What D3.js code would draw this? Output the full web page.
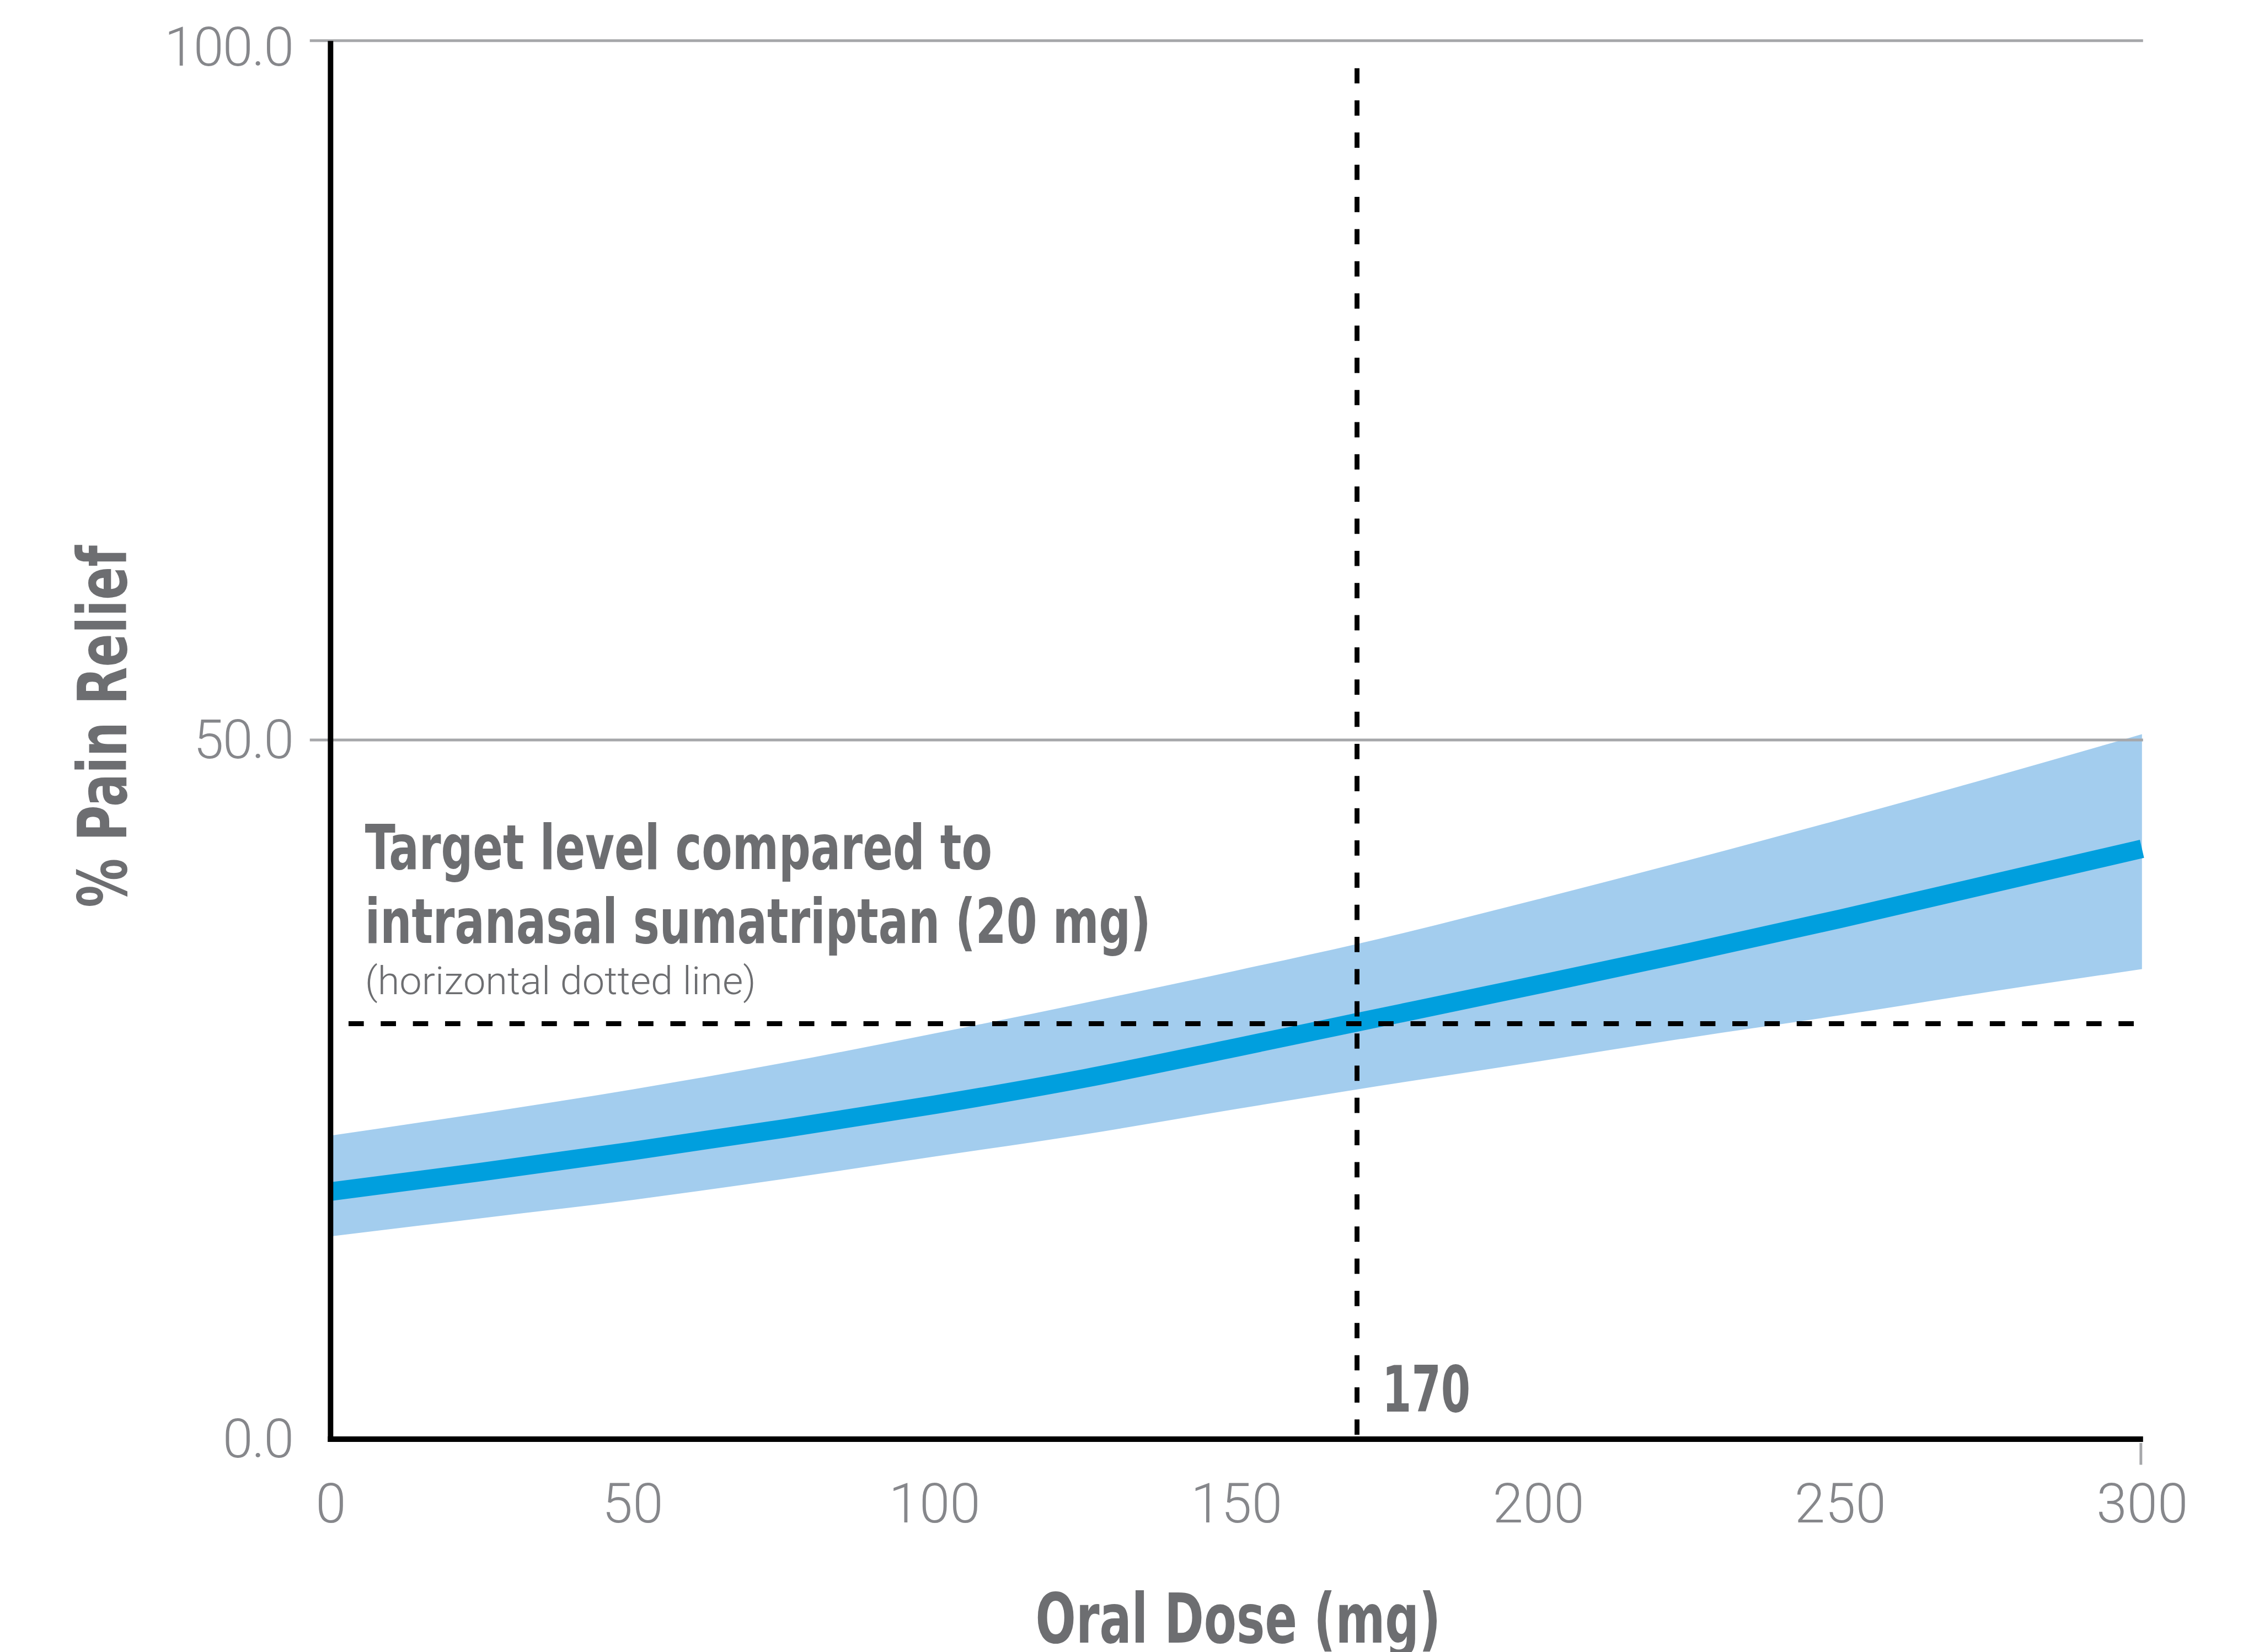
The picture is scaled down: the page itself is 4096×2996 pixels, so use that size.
<!DOCTYPE html>
<html>
<head>
<meta charset="utf-8">
<script src="https://cdn.jsdelivr.net/npm/d3@7"></script>
<style>
    html, body { margin: 0; padding: 0; background: #fff; }
</style>
</head>
<body>
<div id="chart"></div>
<script>
// values
const doses  = [0, 25, 50, 75, 100, 125, 150, 170, 200, 225, 250, 275, 300]
const relief = [17.7, 19.1, 20.6, 22.2, 23.9, 25.8, 28.0, 29.8, 32.5, 34.8, 37.2, 39.7, 42.2]
const upper  = [21.7, 23.3, 25.0, 26.9, 29.0, 31.2, 33.5, 35.4, 38.6, 41.4, 44.3, 47.3, 50.4]
const lower  = [14.5, 15.8, 17.1, 18.6, 20.2, 21.8, 23.6, 25.0, 27.0, 28.7, 30.3, 32.0, 33.6]

const xTicks = [0, 50, 100, 150, 200, 250, 300]
const yTicks = [0, 50, 100]

const targetLevel = 29.7
const targetDose  = 170

const annotation = ["Target level compared to", "intranasal sumatriptan (20 mg)"]
const annotationNote = "(horizontal dotted line)"

// ----------------------------------------------------------

const width  = 4096
const height = 2996
const k = 0.989

const grey     = "#6d6e71"
const tickGrey = "#86878b"
const gridGrey = "#a6a7aa"
const condensed = "'Liberation Sans Narrow', 'Arial Narrow', 'DejaVu Sans Condensed', 'Liberation Sans', sans-serif"

const svg = d3.select("#chart")
    .append("svg")
    .attr("width",  width)
    .attr("height", height)

const g = svg.append("g")
    .attr("transform", `scale(${k})`)

const x = d3.scaleLinear().domain([0, 300]).range([606, 3927])
const y = d3.scaleLinear().domain([0, 100]).range([2639, 74])

const data = doses.map((d, i) => ({dose: d, relief: relief[i], upper: upper[i], lower: lower[i]}))

// confidence band
const area = d3.area()
    .x(d => x(d.dose))
    .y0(d => y(d.lower))
    .y1(d => y(d.upper))
    .curve(d3.curveMonotoneX)

g.append("path")
    .datum(data)
    .attr("d", area)
    .attr("fill", "#a3cdee")

const line = d3.line()
    .x(d => x(d.dose))
    .y(d => y(d.relief))
    .curve(d3.curveMonotoneX)

g.append("path")
    .datum(data)
    .attr("d", line)
    .attr("fill", "none")
    .attr("stroke", "#009fde")
    .attr("stroke-width", 34)

// y axis: gridlines + labels
const yAxisGroup = g.append("g")
    .attr("transform", `translate(${x(0)}, 0)`)
    .call(d3.axisLeft(y)
        .tickValues(yTicks)
        .tickFormat(d3.format(".1f"))
        .tickSize(-(x(300) - x(0) + 2))
        .tickPadding(69))

yAxisGroup.select(".domain").remove()
yAxisGroup.selectAll(".tick line")
    .attr("x1", -38)
    .attr("stroke", gridGrey)
    .attr("stroke-width", 5)
    .attr("opacity", d => d === 0 ? 0 : 1)
yAxisGroup.selectAll(".tick text")
    .attr("fill", tickGrey)
    .attr("font-family", "Roboto, 'Open Sans', sans-serif")
    .attr("font-weight", 300)
    .attr("font-size", 100)
    .attr("letter-spacing", -2)
    .attr("dy", d => d === 100 ? "0.46em" : "0.33em")

// x axis labels
const xAxisGroup = g.append("g")
    .attr("transform", `translate(0, ${y(0)})`)
    .call(d3.axisBottom(x).tickValues(xTicks).tickSize(0))

xAxisGroup.select(".domain").remove()
xAxisGroup.selectAll(".tick text")
    .attr("fill", tickGrey)
    .attr("font-family", "Roboto, 'Open Sans', sans-serif")
    .attr("font-weight", 300)
    .attr("font-size", 101)
    .attr("y", 153)
    .attr("dy", 0)

g.append("line")
    .attr("x1", x(d3.max(xTicks)) - 2)
    .attr("x2", x(d3.max(xTicks)) - 2)
    .attr("y1", y(0) + 7)
    .attr("y2", y(0) + 47)
    .attr("stroke", gridGrey)
    .attr("stroke-width", 5)

// dotted reference lines
g.append("line")
    .attr("x1", x(0) + 33)
    .attr("x2", x(300))
    .attr("y1", y(targetLevel))
    .attr("y2", y(targetLevel))
    .attr("stroke", "#000")
    .attr("stroke-width", 9)
    .attr("stroke-dasharray", "28,31")

g.append("line")
    .attr("x1", x(targetDose))
    .attr("x2", x(targetDose))
    .attr("y1", y(0) - 8)
    .attr("y2", y(100) + 37)
    .attr("stroke", "#000")
    .attr("stroke-width", 9)
    .attr("stroke-dasharray", "28,31")

// black axis lines
g.append("line")
    .attr("x1", x(0))
    .attr("x2", x(0))
    .attr("y1", y(100) + 1)
    .attr("y2", y(0) + 5)
    .attr("stroke", "#000")
    .attr("stroke-width", 10)

g.append("line")
    .attr("x1", x(0) - 5)
    .attr("x2", x(300) + 2)
    .attr("y1", y(0))
    .attr("y2", y(0))
    .attr("stroke", "#000")
    .attr("stroke-width", 10)

// texts
g.append("text")
    .text(targetDose)
    .attr("x", x(targetDose) + 46)
    .attr("y", 2588)
    .attr("font-family", condensed)
    .attr("font-weight", "bold")
    .attr("font-size", 117)
    .attr("textLength", 162)
    .attr("lengthAdjust", "spacingAndGlyphs")
    .attr("fill", grey)

g.selectAll(".annotation")
    .data(annotation)
    .join("text")
        .attr("class", "annotation")
        .text(d => d)
        .attr("x", 669)
        .attr("y", (d, i) => 1594 + i * 135)
        .attr("font-family", condensed)
        .attr("font-weight", "bold")
        .attr("font-size", 113)
        .attr("textLength", (d, i) => i === 0 ? 1150 : 1441)
        .attr("lengthAdjust", "spacingAndGlyphs")
        .attr("fill", grey)

g.append("text")
    .text(annotationNote)
    .attr("x", 669)
    .attr("y", 1823)
    .attr("font-family", "Roboto, 'Open Sans', sans-serif")
    .attr("font-weight", 300)
    .attr("font-size", 72)
    .attr("textLength", 717)
    .attr("lengthAdjust", "spacingAndGlyphs")
    .attr("fill", grey)

g.append("text")
    .text("Oral Dose (mg)")
    .attr("x", 2270)
    .attr("y", 3012)
    .attr("text-anchor", "middle")
    .attr("font-family", condensed)
    .attr("font-weight", "bold")
    .attr("font-size", 127)
    .attr("textLength", 743)
    .attr("lengthAdjust", "spacingAndGlyphs")
    .attr("fill", grey)

g.append("text")
    .text("% Pain Relief")
    .attr("transform", "translate(232, 1332) rotate(-90)")
    .attr("text-anchor", "middle")
    .attr("font-family", condensed)
    .attr("font-weight", "bold")
    .attr("font-size", 124)
    .attr("textLength", 664)
    .attr("lengthAdjust", "spacingAndGlyphs")
    .attr("fill", grey)
</script>
</body>
</html>
